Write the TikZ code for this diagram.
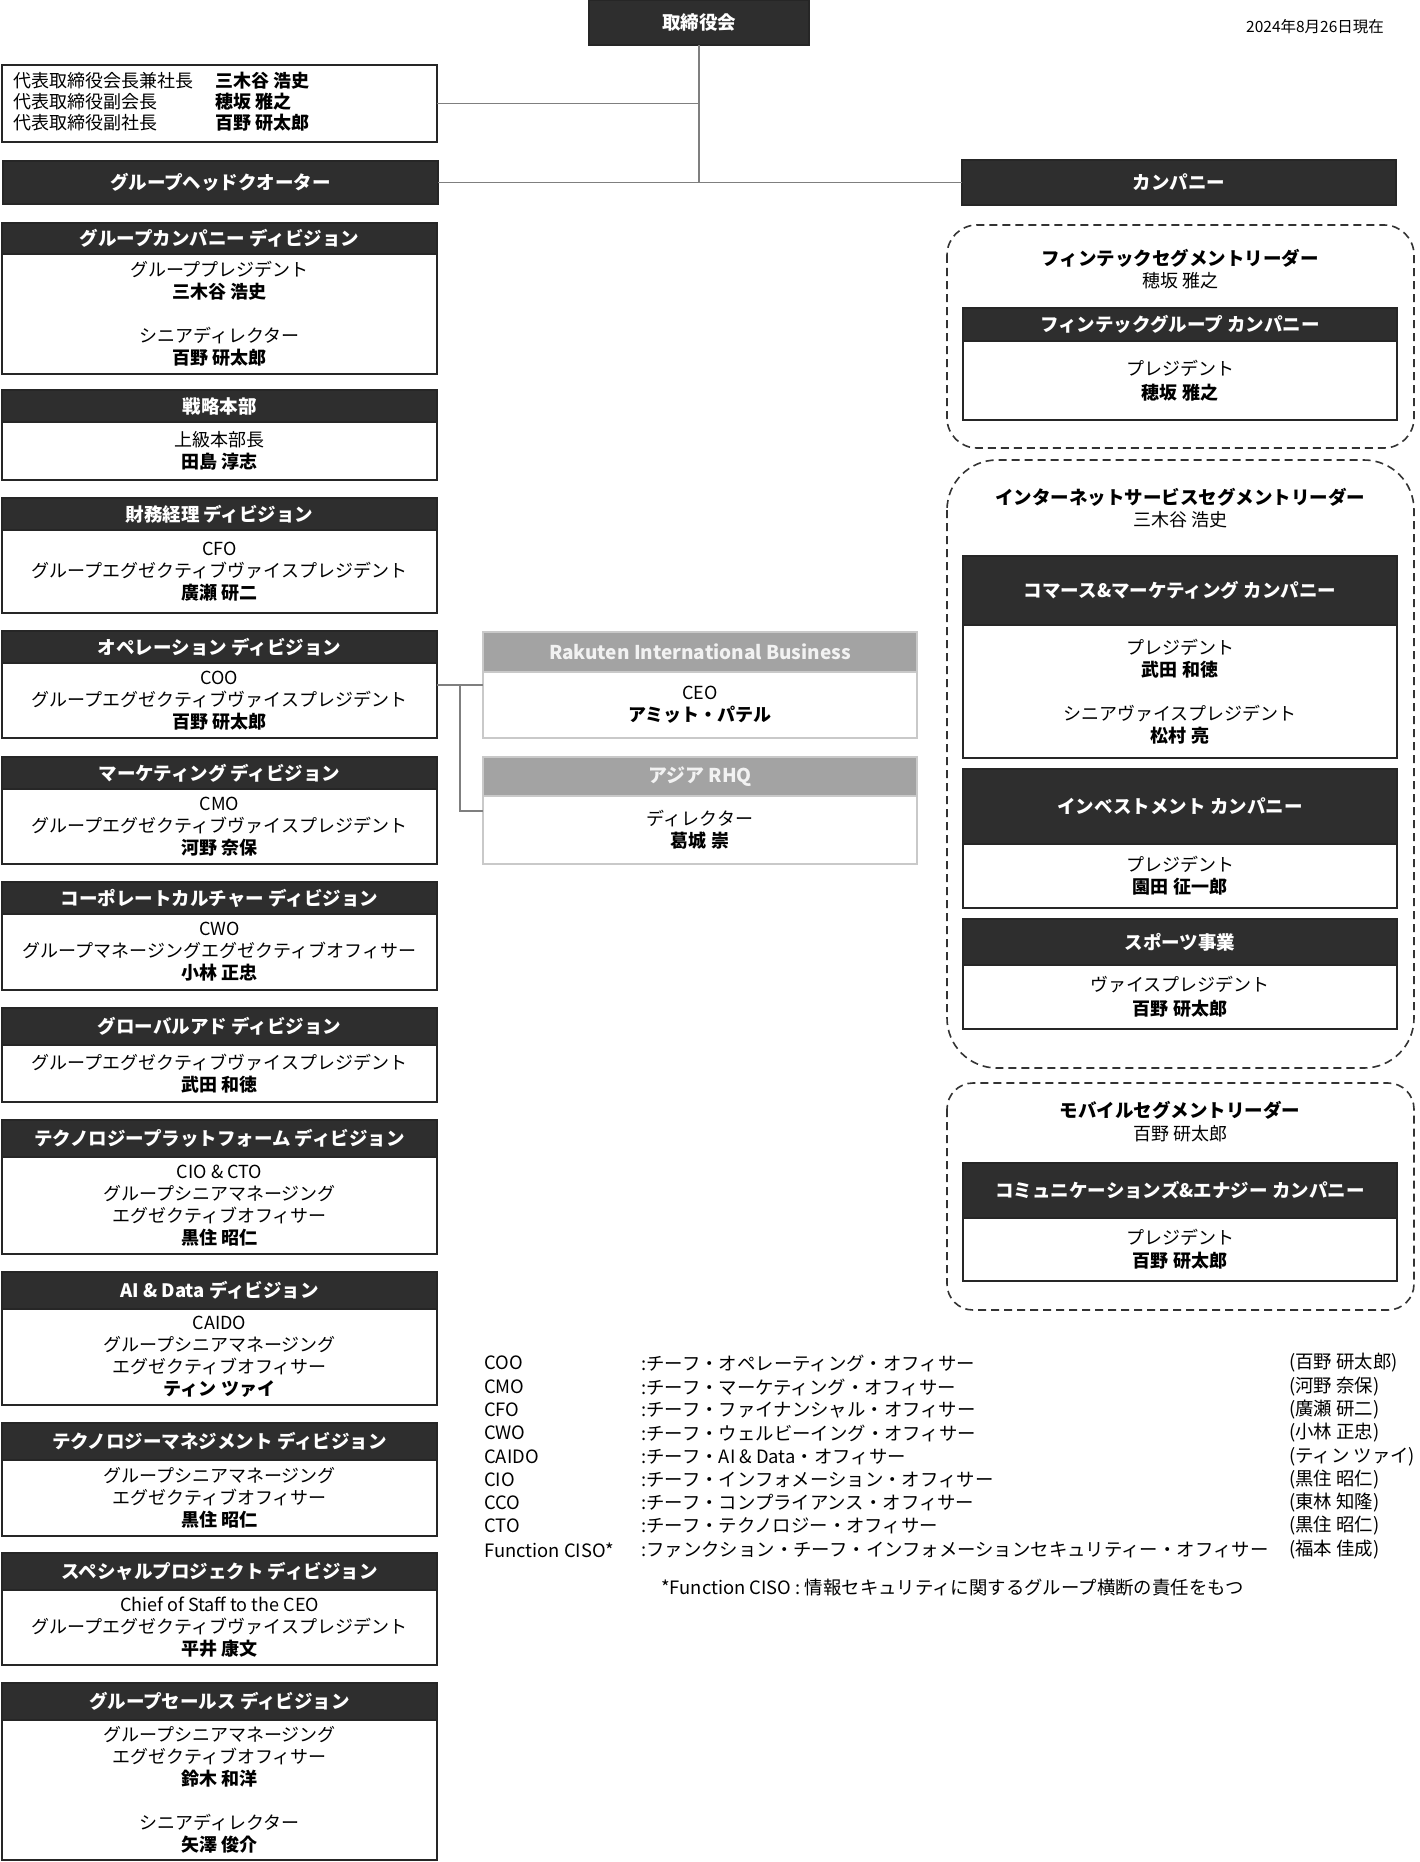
\documentclass[tikz,border=0pt]{standalone}
\usepackage{fontspec}
\setmainfont{Noto Sans CJK JP}
\definecolor{hdrfill}{HTML}{2E2E2E}
\definecolor{boxline}{HTML}{262626}
\definecolor{connc}{HTML}{7F7F7F}
\definecolor{rhqfill}{HTML}{A3A3A3}
\definecolor{rhqline}{HTML}{C9C9C9}
\definecolor{dashc}{HTML}{333333}
\begin{document}
\begin{tikzpicture}[x=1pt,y=-1pt,
  boxbase/.style={anchor=north west, inner sep=0pt, outer sep=0pt, align=center, line width=1.6pt},
  hdr/.style={boxbase, draw=boxline, fill=hdrfill, text=white, font=\fontsize{18.5}{22}\selectfont\bfseries},
  bodyb/.style={boxbase, draw=boxline, fill=white, text=black, font=\fontsize{18}{22}\selectfont},
  lw/.style={minimum width=435pt},
  rw/.style={minimum width=434pt},
  ht/.style={minimum height=#1pt},
  ghdr/.style={boxbase, draw=rhqline, fill=rhqfill, text=white!95!black, font=\fontsize{19}{22}\selectfont\bfseries},
  gbody/.style={boxbase, draw=rhqline, fill=white, text=black, font=\fontsize{18}{22}\selectfont},
  conn/.style={draw=connc, line width=1.6pt},
  dashbox/.style={draw=dashc, line width=1.6pt, dash pattern=on 8pt off 5pt},
  plaintxt/.style={inner sep=0pt, font=\fontsize{18}{22}\selectfont, align=center},
  boldtxt/.style={inner sep=0pt, font=\fontsize{18.5}{22}\selectfont\bfseries, align=center},
  legtxt/.style={inner sep=0pt, anchor=west, font=\fontsize{18}{22}\selectfont},
  legbold/.style={inner sep=0pt, anchor=west, font=\fontsize{18}{22}\selectfont\bfseries},
  keytxt/.style={inner sep=0pt, anchor=west, font=\fontsize{18.4}{22}\selectfont},
]
\useasboundingbox (0,0) rectangle (1420,1862);
\fill[white] (0,0) rectangle (1420,1862);

% ---------- top ----------
\node[hdr, minimum width=220pt, ht=45] (board) at (589,0) {取締役会};
\node[inner sep=0pt, anchor=west, font=\fontsize{15.5}{18}\selectfont] (date) at (1246,27) {2024年8月26日現在};

\node[bodyb, lw, ht=77] (exec) at (2,65) {};
\node[legtxt] (e1) at (13,81) {代表取締役会長兼社長};
\node[legtxt] (e2) at (13,102) {代表取締役副会長};
\node[legtxt] (e3) at (13,123) {代表取締役副社長};
\node[legbold] (en1) at (215,81) {三木谷 浩史};
\node[legbold] (en2) at (215,102) {穂坂 雅之};
\node[legbold] (en3) at (215,123) {百野 研太郎};

\node[hdr, lw, ht=43] (hq) at (3,161) {グループヘッドクオーター};
\node[hdr, rw, ht=45] (comp) at (962,160) {カンパニー};

% ---------- left column ----------
\node[hdr, lw, ht=31] (h1) at (2,223) {グループカンパニー ディビジョン};
\node[bodyb, lw, ht=120] (b1) at (2,254) {グループプレジデント\\\textbf{三木谷 浩史}\\[22pt]シニアディレクター\\\textbf{百野 研太郎}};

\node[hdr, lw, ht=32] (h2) at (2,390) {戦略本部};
\node[bodyb, lw, ht=58] (b2) at (2,422) {上級本部長\\\textbf{田島 淳志}};

\node[hdr, lw, ht=32] (h3) at (2,498) {財務経理 ディビジョン};
\node[bodyb, lw, ht=83] (b3) at (2,530) {CFO\\グループエグゼクティブヴァイスプレジデント\\\textbf{廣瀬 研二}};

\node[hdr, lw, ht=32] (h4) at (2,631) {オペレーション ディビジョン};
\node[bodyb, lw, ht=75] (b4) at (2,663) {COO\\グループエグゼクティブヴァイスプレジデント\\\textbf{百野 研太郎}};

\node[hdr, lw, ht=32] (h5) at (2,757) {マーケティング ディビジョン};
\node[bodyb, lw, ht=75] (b5) at (2,789) {CMO\\グループエグゼクティブヴァイスプレジデント\\\textbf{河野 奈保}};

\node[hdr, lw, ht=32] (h6) at (2,882) {コーポレートカルチャー ディビジョン};
\node[bodyb, lw, ht=76] (b6) at (2,914) {CWO\\グループマネージングエグゼクティブオフィサー\\\textbf{小林 正忠}};

\node[hdr, lw, ht=37] (h7) at (2,1008) {グローバルアド ディビジョン};
\node[bodyb, lw, ht=57] (b7) at (2,1045) {グループエグゼクティブヴァイスプレジデント\\\textbf{武田 和徳}};

\node[hdr, lw, ht=37] (h8) at (2,1120) {テクノロジープラットフォーム ディビジョン};
\node[bodyb, lw, ht=97] (b8) at (2,1157) {CIO \& CTO\\グループシニアマネージング\\エグゼクティブオフィサー\\\textbf{黒住 昭仁}};

\node[hdr, lw, ht=37] (h9) at (2,1272) {AI \& Data ディビジョン};
\node[bodyb, lw, ht=96] (b9) at (2,1309) {CAIDO\\グループシニアマネージング\\エグゼクティブオフィサー\\\textbf{ティン ツァイ}};

\node[hdr, lw, ht=37] (h10) at (2,1423) {テクノロジーマネジメント ディビジョン};
\node[bodyb, lw, ht=76] (b10) at (2,1460) {グループシニアマネージング\\エグゼクティブオフィサー\\\textbf{黒住 昭仁}};

\node[hdr, lw, ht=37] (h11) at (2,1553) {スペシャルプロジェクト ディビジョン};
\node[bodyb, lw, ht=75] (b11) at (2,1590) {Chief of Staff to the CEO\\グループエグゼクティブヴァイスプレジデント\\\textbf{平井 康文}};

\node[hdr, lw, ht=37] (h12) at (2,1683) {グループセールス ディビジョン};
\node[bodyb, lw, ht=140] (b12) at (2,1720) {グループシニアマネージング\\エグゼクティブオフィサー\\\textbf{鈴木 和洋}\\[22pt]シニアディレクター\\\textbf{矢澤 俊介}};

% ---------- middle column ----------
\node[ghdr, rw, ht=40] (rh) at (483,632) {Rakuten International Business};
\node[gbody, rw, ht=66] (rb) at (483,672) {CEO\\\textbf{アミット・パテル}};
\node[ghdr, rw, ht=39] (ah) at (483,757) {アジア RHQ};
\node[gbody, rw, ht=68] (ab) at (483,796) {ディレクター\\\textbf{葛城 崇}};

% ---------- right column ----------
\draw[dashbox, rounded corners=30pt] (947,225) rectangle (1414,448);
\draw[dashbox, rounded corners=50pt] (947,460) rectangle (1414,1068);
\draw[dashbox, rounded corners=26pt] (947,1083) rectangle (1414,1310);

\node[boldtxt] (fl) at (1180,258) {フィンテックセグメントリーダー};
\node[plaintxt] (fn) at (1180,281) {穂坂 雅之};
\node[hdr, rw, ht=33] (fh) at (963,308) {フィンテックグループ カンパニー};
\node[bodyb, rw, ht=79] (fb) at (963,341) {プレジデント\\[2pt]\textbf{穂坂 雅之}};

\node[boldtxt] (il) at (1180,497) {インターネットサービスセグメントリーダー};
\node[plaintxt] (in) at (1180,520) {三木谷 浩史};
\node[hdr, rw, ht=69] (ch) at (963,556) {コマース\&マーケティング カンパニー};
\node[bodyb, rw, ht=133] (cb) at (963,625) {プレジデント\\\textbf{武田 和徳}\\[22pt]シニアヴァイスプレジデント\\\textbf{松村 亮}};
\node[hdr, rw, ht=75] (ih) at (963,769) {インベストメント カンパニー};
\node[bodyb, rw, ht=64] (ib) at (963,844) {プレジデント\\\textbf{園田 征一郎}};
\node[hdr, rw, ht=46] (sh) at (963,919) {スポーツ事業};
\node[bodyb, rw, ht=64] (sb) at (963,965) {ヴァイスプレジデント\\[2pt]\textbf{百野 研太郎}};

\node[boldtxt] (ml) at (1180,1110) {モバイルセグメントリーダー};
\node[plaintxt] (mn) at (1180,1134) {百野 研太郎};
\node[hdr, rw, ht=55] (mh) at (963,1163) {コミュニケーションズ\&エナジー カンパニー};
\node[bodyb, rw, ht=63] (mb) at (963,1218) {プレジデント\\[1pt]\textbf{百野 研太郎}};

% ---------- connectors ----------
\draw[conn] (board.south) -- (board.south |- hq.east);
\draw[conn] (exec.east) -- (exec.east -| board.south);
\draw[conn] (hq.east) -- (comp.west);
\coordinate (jA) at (460,685);
\coordinate (jB) at (460,811);
\draw[conn] (b4.east |- jA) -- (rb.west |- jA);
\draw[conn] (jA) -- (jB) -- (ab.west |- jB);

% ---------- legend ----------
\node[keytxt] (la1) at (484,1363) {COO};
\node[keytxt] (lb1) at (641,1363) {:チーフ・オペレーティング・オフィサー};
\node[keytxt] (lc1) at (1289,1363) {(百野 研太郎)};
\node[keytxt] (la2) at (484,1387) {CMO};
\node[keytxt] (lb2) at (641,1387) {:チーフ・マーケティング・オフィサー};
\node[keytxt] (lc2) at (1289,1387) {(河野 奈保)};
\node[keytxt] (la3) at (484,1410) {CFO};
\node[keytxt] (lb3) at (641,1410) {:チーフ・ファイナンシャル・オフィサー};
\node[keytxt] (lc3) at (1289,1410) {(廣瀬 研二)};
\node[keytxt] (la4) at (484,1433) {CWO};
\node[keytxt] (lb4) at (641,1433) {:チーフ・ウェルビーイング・オフィサー};
\node[keytxt] (lc4) at (1289,1433) {(小林 正忠)};
\node[keytxt] (la5) at (484,1457) {CAIDO};
\node[keytxt] (lb5) at (641,1457) {:チーフ・AI \& Data・オフィサー};
\node[keytxt] (lc5) at (1289,1457) {(ティン ツァイ)};
\node[keytxt] (la6) at (484,1480) {CIO};
\node[keytxt] (lb6) at (641,1480) {:チーフ・インフォメーション・オフィサー};
\node[keytxt] (lc6) at (1289,1480) {(黒住 昭仁)};
\node[keytxt] (la7) at (484,1503) {CCO};
\node[keytxt] (lb7) at (641,1503) {:チーフ・コンプライアンス・オフィサー};
\node[keytxt] (lc7) at (1289,1503) {(東林 知隆)};
\node[keytxt] (la8) at (484,1526) {CTO};
\node[keytxt] (lb8) at (641,1526) {:チーフ・テクノロジー・オフィサー};
\node[keytxt] (lc8) at (1289,1526) {(黒住 昭仁)};
\node[keytxt] (la9) at (484,1550) {Function CISO*};
\node[keytxt] (lb9) at (641,1550) {:ファンクション・チーフ・インフォメーションセキュリティー・オフィサー};
\node[keytxt] (lc9) at (1289,1550) {(福本 佳成)};
\node[keytxt] (fnote) at (661,1588) {*Function CISO : 情報セキュリティに関するグループ横断の責任をもつ};
\end{tikzpicture}
\end{document}
